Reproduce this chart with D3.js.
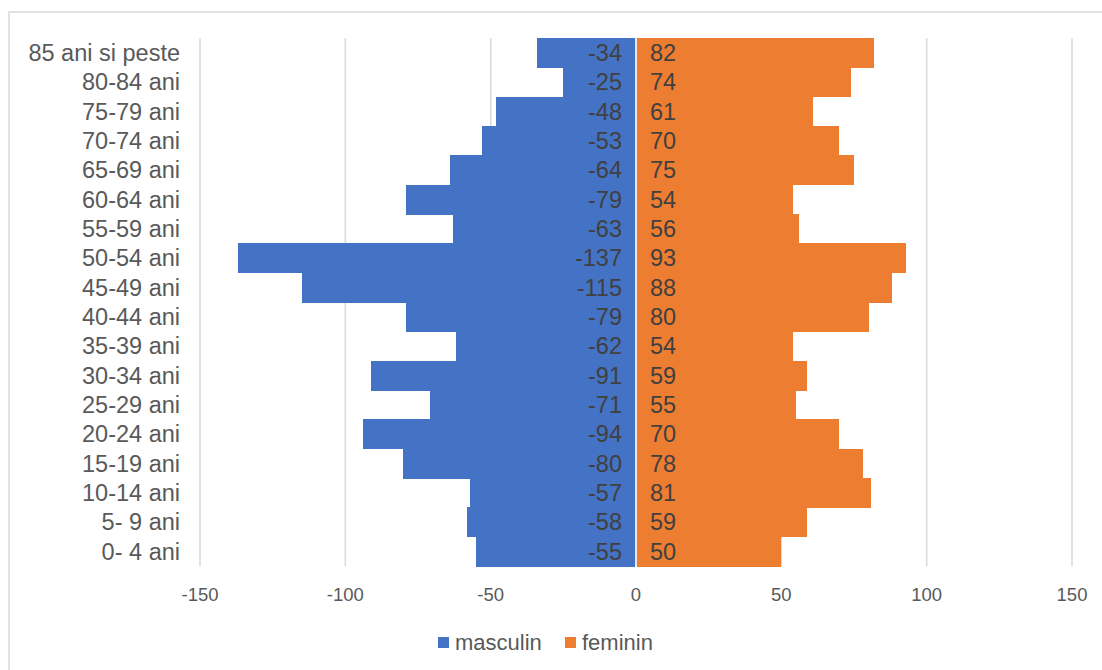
<!DOCTYPE html>
<html>
<head>
    <meta charset="utf-8">
    <title>Piramida varstelor</title>
    <script src="https://d3js.org/d3.v7.min.js"></script>
    <style>
        body { margin: 0; background: #fff; }
        svg { display: block; font-family: "Liberation Sans", Arial, sans-serif; }
    </style>
</head>
<body>
    <svg width="1102" height="670"></svg>
    <script>
        // age groups, bottom to top
        const ageGroups = ["0- 4 ani", "5- 9 ani", "10-14 ani", "15-19 ani", "20-24 ani", "25-29 ani",
            "30-34 ani", "35-39 ani", "40-44 ani", "45-49 ani", "50-54 ani", "55-59 ani",
            "60-64 ani", "65-69 ani", "70-74 ani", "75-79 ani", "80-84 ani", "85 ani si peste"];
        const masculin = [-55, -58, -57, -80, -94, -71, -91, -62, -79, -115, -137, -63, -79, -64, -53, -48, -25, -34];
        const feminin = [50, 59, 81, 78, 70, 55, 59, 54, 80, 88, 93, 56, 54, 75, 70, 61, 74, 82];
        const xTicks = [-150, -100, -50, 0, 50, 100, 150];

        const blue = "#4472C4", orange = "#ED7D31";
        const svg = d3.select("svg");

        // chart frame (runs off right/bottom edge like the original)
        svg.append("rect").attr("x", 9).attr("y", 12).attr("width", 1200).attr("height", 800)
            .attr("fill", "none").attr("stroke", "#d9d9d9").attr("stroke-width", 1.5);

        const x = d3.scaleLinear().domain([-150, 150]).range([200, 1072]);
        const y = d3.scaleBand().domain(ageGroups.slice().reverse()).range([38, 566]).padding(0);

        // gridlines
        svg.append("g").selectAll("line")
            .data(xTicks.filter(t => t !== 0))
            .enter().append("line")
            .attr("x1", d => x(d)).attr("x2", d => x(d))
            .attr("y1", 38).attr("y2", 566)
            .attr("stroke", "#d9d9d9").attr("stroke-width", 1.5);

        // tick labels
        svg.append("g").selectAll("text")
            .data(xTicks)
            .enter().append("text")
            .attr("x", d => x(d)).attr("y", 601)
            .attr("text-anchor", "middle")
            .attr("font-size", 18.5).attr("fill", "#595959")
            .text(d => d);

        const rows = ageGroups.map((g, i) => ({ group: g, m: masculin[i], f: feminin[i] }));

        // bars
        svg.append("g").attr("shape-rendering", "crispEdges").selectAll("rect")
            .data(rows)
            .enter().append("rect")
            .attr("x", d => x(d.m)).attr("width", d => x(0) - x(d.m) - 1)
            .attr("y", d => y(d.group)).attr("height", y.bandwidth() + 0.5)
            .attr("fill", blue);

        svg.append("g").attr("shape-rendering", "crispEdges").selectAll("rect")
            .data(rows)
            .enter().append("rect")
            .attr("x", x(0) + 1).attr("width", d => x(d.f) - x(0) - 1)
            .attr("y", d => y(d.group)).attr("height", y.bandwidth() + 0.5)
            .attr("fill", orange);

        // vertical axis at 0
        svg.append("line")
            .attr("x1", x(0)).attr("x2", x(0)).attr("y1", 38).attr("y2", 566)
            .attr("stroke", "#d9d9d9").attr("stroke-width", 1.2);

        // category labels
        svg.append("g").selectAll("text")
            .data(rows)
            .enter().append("text")
            .attr("x", 180).attr("y", d => y(d.group) + y.bandwidth() / 2)
            .attr("dy", "0.36em").attr("text-anchor", "end")
            .attr("font-size", 23.5).attr("fill", "#595959")
            .text(d => d.group);

        // data labels
        svg.append("g").selectAll("text")
            .data(rows)
            .enter().append("text")
            .attr("x", x(0) - 14).attr("y", d => y(d.group) + y.bandwidth() / 2)
            .attr("dy", "0.36em").attr("text-anchor", "end")
            .attr("font-size", 23.5).attr("fill", "#404040")
            .text(d => d.m);

        svg.append("g").selectAll("text")
            .data(rows)
            .enter().append("text")
            .attr("x", x(0) + 14).attr("y", d => y(d.group) + y.bandwidth() / 2)
            .attr("dy", "0.36em").attr("text-anchor", "start")
            .attr("font-size", 23.5).attr("fill", "#404040")
            .text(d => d.f);

        // legend
        const legend = [{ name: "masculin", color: blue, x: 438 }, { name: "feminin", color: orange, x: 565 }];
        const lg = svg.append("g").selectAll("g").data(legend).enter().append("g");
        lg.append("rect").attr("x", d => d.x).attr("y", 637).attr("width", 11).attr("height", 11)
            .attr("fill", d => d.color);
        lg.append("text").attr("x", d => d.x + 17).attr("y", 650)
            .attr("font-size", 22).attr("fill", "#595959")
            .text(d => d.name);
    </script>
</body>
</html>
